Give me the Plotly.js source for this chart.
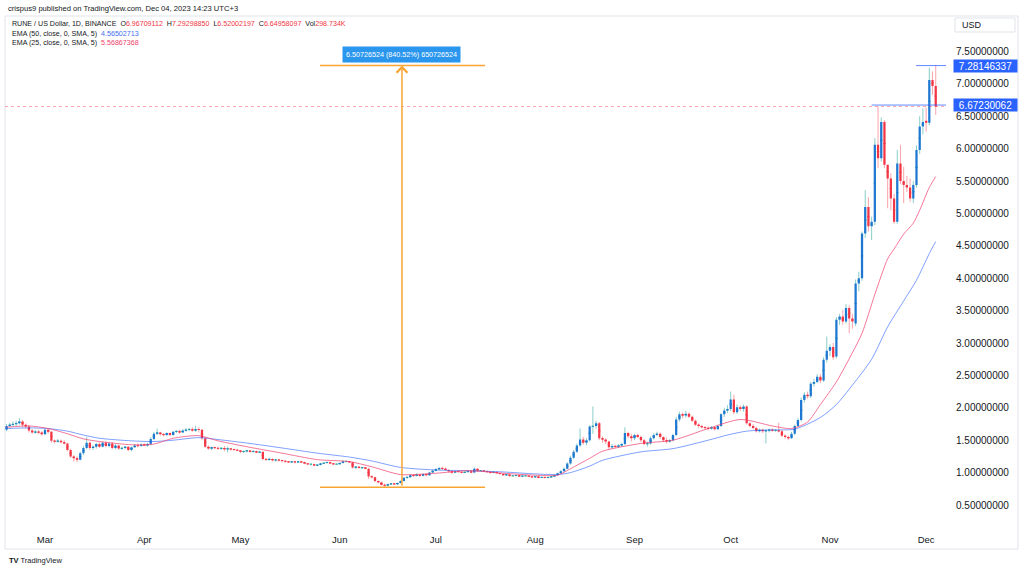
<!DOCTYPE html>
<html><head><meta charset="utf-8">
<script src="https://cdn.plot.ly/plotly-3.0.1.min.js"></script>
<style>html,body{margin:0;padding:0;background:#fff;}#chart{width:1024px;height:570px;}</style>
</head><body><div id="chart"></div>
<script>
// ---- data: RUNE / US Dollar, 1D, Binance, daily candles from 2023-02-17 ----
const firstDay = '2023-02-17';
const openFeb = [1.66,1.72,1.74,1.75,1.76,1.79,1.74,1.71,1.65,1.62,1.63,1.62];
const highFeb = [1.75,1.77,1.79,1.80,1.84,1.81,1.76,1.73,1.67,1.66,1.66,1.64];
const lowFeb  = [1.64,1.70,1.71,1.72,1.74,1.70,1.68,1.62,1.60,1.60,1.59,1.57];
const closeFeb= [1.72,1.74,1.75,1.76,1.79,1.74,1.71,1.65,1.62,1.63,1.62,1.59];

const openMar = [1.59,1.66,1.63,1.49,1.48,1.49,1.47,1.45,1.35,1.25,1.22,1.20,1.30,1.38,1.46,1.38,1.40,1.44,1.40,1.46,1.41,1.45,1.38,1.42,1.37,1.38,1.40,1.35,1.39,1.42,1.41];
const highMar = [1.68,1.68,1.64,1.51,1.52,1.51,1.50,1.46,1.37,1.27,1.25,1.32,1.41,1.55,1.48,1.42,1.46,1.47,1.48,1.48,1.47,1.47,1.44,1.43,1.40,1.41,1.41,1.40,1.44,1.45,1.45];
const lowMar  = [1.58,1.60,1.46,1.45,1.46,1.45,1.43,1.33,1.23,1.17,1.16,1.19,1.27,1.36,1.35,1.35,1.37,1.38,1.39,1.39,1.39,1.36,1.36,1.35,1.35,1.36,1.33,1.33,1.38,1.39,1.40];
const closeMar= [1.66,1.63,1.49,1.48,1.49,1.47,1.45,1.35,1.25,1.22,1.20,1.30,1.38,1.46,1.38,1.40,1.44,1.40,1.46,1.41,1.45,1.38,1.42,1.37,1.38,1.40,1.35,1.39,1.42,1.41,1.43];

const openApr = [1.43,1.42,1.44,1.52,1.60,1.62,1.59,1.58,1.61,1.58,1.63,1.64,1.62,1.65,1.66,1.67,1.65,1.67,1.66,1.53,1.40,1.37,1.39,1.38,1.37,1.38,1.36,1.37,1.36,1.35];
const highApr = [1.45,1.46,1.55,1.63,1.68,1.63,1.61,1.62,1.62,1.64,1.66,1.66,1.67,1.69,1.69,1.70,1.72,1.70,1.67,1.54,1.42,1.40,1.40,1.40,1.39,1.41,1.40,1.38,1.37,1.37];
const lowApr  = [1.41,1.40,1.42,1.50,1.58,1.57,1.56,1.56,1.56,1.57,1.61,1.60,1.61,1.63,1.64,1.63,1.63,1.62,1.50,1.38,1.35,1.35,1.36,1.35,1.35,1.33,1.31,1.34,1.34,1.33];
const closeApr= [1.42,1.44,1.52,1.60,1.62,1.59,1.58,1.61,1.58,1.63,1.64,1.62,1.65,1.66,1.67,1.65,1.67,1.66,1.53,1.40,1.37,1.39,1.38,1.37,1.38,1.36,1.37,1.36,1.35,1.34];

const openMay = [1.34,1.32,1.33,1.34,1.32,1.33,1.31,1.32,1.21,1.20,1.21,1.19,1.20,1.19,1.18,1.17,1.16,1.17,1.16,1.17,1.16,1.14,1.13,1.13,1.11,1.12,1.14,1.15,1.16,1.14,1.13];
const highMay = [1.35,1.34,1.35,1.35,1.35,1.34,1.33,1.32,1.22,1.23,1.22,1.21,1.21,1.20,1.19,1.18,1.18,1.18,1.18,1.18,1.17,1.15,1.14,1.14,1.13,1.15,1.16,1.17,1.17,1.15,1.14];
const lowMay  = [1.30,1.30,1.31,1.31,1.31,1.30,1.30,1.19,1.18,1.18,1.17,1.17,1.17,1.16,1.15,1.15,1.15,1.14,1.15,1.15,1.13,1.12,1.11,1.10,1.10,1.11,1.13,1.14,1.13,1.12,1.12];
const closeMay= [1.32,1.33,1.34,1.32,1.33,1.31,1.32,1.21,1.20,1.21,1.19,1.20,1.19,1.18,1.17,1.16,1.17,1.16,1.17,1.16,1.14,1.13,1.13,1.11,1.12,1.14,1.15,1.16,1.14,1.13,1.13];

const openJun = [1.13,1.15,1.17,1.17,1.16,1.08,1.09,1.07,1.08,1.06,0.94,0.93,0.87,0.85,0.81,0.80,0.82,0.83,0.82,0.84,0.87,0.92,0.93,0.96,0.95,0.97,0.95,0.98,0.96,1.00];
const highJun = [1.16,1.19,1.19,1.18,1.17,1.10,1.10,1.09,1.09,1.07,0.96,0.94,0.88,0.86,0.83,0.83,0.84,0.84,0.85,0.88,0.93,0.95,0.98,0.98,0.99,0.98,0.99,0.99,1.01,1.05];
const lowJun  = [1.12,1.14,1.16,1.15,1.06,1.05,1.06,1.06,1.05,0.90,0.91,0.85,0.83,0.80,0.77419813,0.79,0.81,0.81,0.81,0.83,0.86,0.90,0.92,0.93,0.94,0.93,0.94,0.94,0.95,0.99];
const closeJun= [1.15,1.17,1.17,1.16,1.08,1.09,1.07,1.08,1.06,0.94,0.93,0.87,0.85,0.81,0.80,0.82,0.83,0.82,0.84,0.87,0.92,0.93,0.96,0.95,0.97,0.95,0.98,0.96,1.00,1.03];

const openJul = [1.03,1.05,1.07,1.06,1.04,1.02,1.00,1.02,1.01,1.00,1.01,1.02,1.00,1.06,1.03,1.03,1.02,1.01,1.00,1.01,0.99,0.98,0.96,0.97,0.95,0.95,0.96,0.94,0.95,0.95,0.94];
const highJul = [1.07,1.09,1.09,1.08,1.05,1.04,1.03,1.03,1.02,1.02,1.03,1.03,1.08,1.07,1.04,1.04,1.03,1.02,1.02,1.02,1.00,0.99,0.98,0.97,0.96,0.97,0.97,0.96,0.96,0.96,0.95];
const lowJul  = [1.02,1.04,1.04,1.03,1.00,0.98,0.99,1.00,0.99,0.99,1.00,0.99,0.99,1.01,1.02,1.01,1.00,0.98,0.99,0.98,0.97,0.95,0.95,0.93,0.94,0.94,0.93,0.93,0.94,0.93,0.92];
const closeJul= [1.05,1.07,1.06,1.04,1.02,1.00,1.02,1.01,1.00,1.01,1.02,1.00,1.06,1.03,1.03,1.02,1.01,1.00,1.01,0.99,0.98,0.96,0.97,0.95,0.95,0.96,0.94,0.95,0.95,0.94,0.93];

const openAug = [0.93,0.94,0.92,0.93,0.92,0.93,0.94,0.96,0.99,1.02,1.06,1.14,1.23,1.32,1.42,1.51,1.46,1.50,1.71,1.72,1.76,1.53,1.51,1.48,1.39,1.41,1.40,1.42,1.44,1.61,1.56];
const highAug = [0.95,0.95,0.94,0.94,0.94,0.95,0.97,1.00,1.04,1.08,1.16,1.26,1.35,1.45,1.68,1.55,1.53,1.73,2.02,1.80,1.78,1.56,1.53,1.49,1.44,1.43,1.44,1.46,1.70,1.63,1.60];
const lowAug  = [0.92,0.91,0.92,0.91,0.91,0.92,0.93,0.95,0.98,1.01,1.05,1.12,1.21,1.30,1.40,1.43,1.42,1.48,1.60,1.68,1.50,1.46,1.44,1.36,1.37,1.38,1.38,1.40,1.42,1.53,1.48];
const closeAug= [0.94,0.92,0.93,0.92,0.93,0.94,0.96,0.99,1.02,1.06,1.14,1.23,1.32,1.42,1.51,1.46,1.50,1.71,1.72,1.76,1.53,1.51,1.48,1.39,1.41,1.40,1.42,1.44,1.61,1.56,1.53];

const openSep = [1.53,1.58,1.55,1.50,1.44,1.45,1.53,1.58,1.60,1.55,1.50,1.48,1.50,1.58,1.82,1.90,1.88,1.91,1.86,1.80,1.74,1.72,1.70,1.69,1.68,1.70,1.67,1.72,1.90,1.96];
const highSep = [1.60,1.60,1.57,1.52,1.48,1.56,1.61,1.63,1.62,1.56,1.54,1.52,1.60,1.86,1.94,1.93,1.95,1.93,1.88,1.82,1.76,1.74,1.72,1.71,1.72,1.71,1.74,1.92,2.00,2.04];
const lowSep  = [1.50,1.53,1.47,1.42,1.40,1.43,1.51,1.56,1.52,1.47,1.45,1.46,1.48,1.56,1.79,1.84,1.85,1.84,1.78,1.72,1.69,1.68,1.66,1.65,1.66,1.65,1.66,1.70,1.86,1.92];
const closeSep= [1.58,1.55,1.50,1.44,1.45,1.53,1.58,1.60,1.55,1.50,1.48,1.50,1.58,1.82,1.90,1.88,1.91,1.86,1.80,1.74,1.72,1.70,1.69,1.68,1.70,1.67,1.72,1.90,1.96,1.98];

const openOct = [1.98,2.13,1.93,2.01,1.98,2.02,1.76,1.72,1.69,1.64,1.66,1.64,1.65,1.66,1.65,1.65,1.64,1.57,1.55,1.53,1.60,1.72,1.81,2.12,2.20,2.18,2.37,2.40,2.48,2.42,2.74];
const highOct = [2.25,2.20,2.05,2.04,2.05,2.04,1.78,1.75,1.71,1.68,1.68,1.67,1.68,1.68,1.67,1.77,1.66,1.59,1.57,1.63,1.74,1.84,2.16,2.24,2.25,2.40,2.45,2.52,2.52,2.78,3.10];
const lowOct  = [1.95,1.90,1.91,1.95,1.94,1.74,1.70,1.67,1.62,1.62,1.61,1.45,1.62,1.63,1.63,1.62,1.55,1.52,1.50,1.52,1.58,1.70,1.79,2.08,2.14,2.15,2.33,2.38,2.38,2.40,2.70];
const closeOct= [2.13,1.93,2.01,1.98,2.02,1.76,1.72,1.69,1.64,1.66,1.64,1.65,1.66,1.65,1.65,1.64,1.57,1.55,1.53,1.60,1.72,1.81,2.12,2.20,2.18,2.37,2.40,2.48,2.42,2.74,2.88];

const openNov = [2.88,2.94,2.79,3.36,3.41,3.33,3.54,3.38,3.30,3.92,4.00,4.69,5.10,4.80,4.87,6.06,5.85,6.41,5.75,5.54,5.23,4.87,5.77,5.50,5.44,5.40,5.23,5.44,5.98,6.34];
const highNov = [2.98,3.00,3.40,3.45,3.51,3.60,3.58,3.45,3.98,4.10,4.72,5.36,5.25,4.95,6.16,6.65,6.48,6.44,5.75,5.62,5.30,5.98,6.06,5.72,5.58,5.54,5.50,6.05,6.50,6.62];
const lowNov  = [2.80,2.74,2.76,3.28,3.28,3.30,3.15,3.22,3.26,3.80,3.96,4.62,4.72,4.59,4.82,5.70,5.80,5.70,5.08,5.05,4.84,4.84,5.45,5.16,5.33,5.18,5.16,5.40,5.92,6.22];
const closeNov= [2.94,2.78,3.36,3.41,3.33,3.54,3.38,3.33,3.92,4.00,4.69,5.10,4.80,4.87,6.06,5.85,6.41,5.75,5.54,5.23,4.87,5.77,5.50,5.44,5.40,5.23,5.44,5.98,6.34,6.41];

const openDec = [6.43,6.40,7.06,6.96709112];
const highDec = [6.63,7.25,7.19,7.29298850];
const lowDec  = [6.26,6.36,6.83,6.52002197];
const closeDec= [6.40,7.06,6.96709112,6.64958097];

// EMA indicator readings (sampled dates)
const ema50Dates = ['2023-02-17','2023-02-24','2023-03-02','2023-03-08','2023-03-13','2023-03-18','2023-03-28','2023-04-04','2023-04-10','2023-04-18','2023-04-24','2023-05-04','2023-05-14','2023-05-25','2023-06-04','2023-06-11','2023-06-20','2023-07-01','2023-07-11','2023-07-22','2023-08-01','2023-08-08','2023-08-12','2023-08-18','2023-08-22','2023-09-03','2023-09-13','2023-09-24','2023-09-30','2023-10-06','2023-10-14','2023-10-21','2023-10-29','2023-11-03','2023-11-08','2023-11-14','2023-11-19','2023-11-24','2023-11-28','2023-12-02','2023-12-04'];
const ema50Vals  = [1.68,1.69,1.68,1.64,1.58,1.53,1.49,1.48,1.50,1.54,1.51,1.45,1.38,1.30,1.24,1.18,1.08,1.04,1.03,1.01,0.98,0.97,1.00,1.10,1.19,1.32,1.37,1.50,1.58,1.64,1.66,1.67,1.85,2.05,2.35,2.75,3.25,3.65,3.97,4.38,4.56502713];
const ema25Dates = ['2023-02-17','2023-02-24','2023-03-02','2023-03-08','2023-03-13','2023-03-18','2023-03-28','2023-04-04','2023-04-10','2023-04-18','2023-04-24','2023-05-04','2023-05-14','2023-05-25','2023-06-04','2023-06-11','2023-06-20','2023-07-01','2023-07-11','2023-07-22','2023-08-01','2023-08-08','2023-08-12','2023-08-18','2023-08-22','2023-09-03','2023-09-13','2023-09-24','2023-10-04','2023-10-14','2023-10-20','2023-10-25','2023-10-29','2023-11-03','2023-11-08','2023-11-11','2023-11-15','2023-11-19','2023-11-21','2023-11-24','2023-11-27','2023-11-29','2023-12-02','2023-12-04'];
const ema25Vals  = [1.70,1.72,1.68,1.60,1.52,1.48,1.43,1.44,1.53,1.57,1.49,1.39,1.30,1.20,1.17,1.09,0.97,0.99,1.03,0.99,0.96,0.96,1.06,1.22,1.33,1.45,1.50,1.68,1.82,1.72,1.68,1.78,2.05,2.40,2.85,3.15,3.75,4.30,4.45,4.68,4.85,5.05,5.40,5.56867368];

// drawings
const measureLow = 0.77419813, measureHigh = 7.28146337;
const measureStart = '2023-05-25T20:00', measureEnd = '2023-07-16T08:00', measureAt = '2023-06-20T10:00';
const rayLevel1 = 6.67230062, rayStart1 = '2023-11-14';
const rayLevel2 = 7.28146337, rayStart2 = '2023-11-27T21:00';
const xRange = ['2023-02-16T12:30', '2023-12-07T05:00'];
const yRange = [0.145, 7.985];

// ---- build ----
const O = [].concat(openFeb,openMar,openApr,openMay,openJun,openJul,openAug,openSep,openOct,openNov,openDec);
const H = [].concat(highFeb,highMar,highApr,highMay,highJun,highJul,highAug,highSep,highOct,highNov,highDec);
const L = [].concat(lowFeb,lowMar,lowApr,lowMay,lowJun,lowJul,lowAug,lowSep,lowOct,lowNov,lowDec);
const C = [].concat(closeFeb,closeMar,closeApr,closeMay,closeJun,closeJul,closeAug,closeSep,closeOct,closeNov,closeDec);
const t0 = Date.parse(firstDay + 'T00:00:00Z');
const D = O.map((_, i) => new Date(t0 + i * 86400000).toISOString().slice(0, 10));

const up = {x:[],o:[],h:[],l:[]}, dn = {x:[],o:[],h:[],l:[]};
O.forEach((o, i) => {
  const g = C[i] >= o ? up : dn;
  const mid = (o + C[i]) / 2;
  g.x.push(D[i]); g.o.push(mid); g.h.push(H[i]); g.l.push(L[i]);
});
const bodyHi = O.map((o, i) => Math.max(o, C[i]));
const bodyLo = O.map((o, i) => Math.min(o, C[i]));

const BLUE = '#1e78d2', RED = '#f23645';
const wickUp = 'rgba(38,166,154,0.55)', wickDn = 'rgba(242,54,69,0.45)';
function wickTrace(g, col) {
  return {type:'candlestick', x:g.x, open:g.o, close:g.o, high:g.h, low:g.l,
    increasing:{line:{color:col,width:1}, fillcolor:col},
    decreasing:{line:{color:col,width:1}, fillcolor:col},
    hoverinfo:'skip', showlegend:false};
}
const traces = [
  {type:'scatter', mode:'lines', x:ema50Dates, y:ema50Vals, line:{color:'rgba(41,98,255,0.6)', width:1, shape:'spline', smoothing:0.7}, hoverinfo:'skip', showlegend:false},
  {type:'scatter', mode:'lines', x:ema25Dates, y:ema25Vals, line:{color:'rgba(240,60,110,0.7)', width:1, shape:'spline', smoothing:0.7}, hoverinfo:'skip', showlegend:false},
  wickTrace(up, wickUp),
  wickTrace(dn, wickDn),
  {type:'candlestick', x:D, open:O, close:C, high:bodyHi, low:bodyLo,
    increasing:{line:{color:BLUE,width:0}, fillcolor:BLUE},
    decreasing:{line:{color:RED,width:0}, fillcolor:RED},
    hoverinfo:'skip', showlegend:false}
];

const last = O.length - 1;
const f8 = v => v.toFixed(8);
const red = s => '<span style="color:#f23645">' + s + '</span>';
const SP = '\u00a0\u00a0';
const line1 = 'RUNE / US Dollar, 1D, BINANCE' + SP + 'O' + red(f8(O[last])) + SP + 'H' + red(f8(H[last])) + SP + 'L' + red(f8(L[last])) + SP + 'C' + red(f8(C[last])) + SP + 'Vol' + red('298.734K');
const line2 = 'EMA (50, close, 0, SMA, 5)' + SP + '<span style="color:#3f6ef0">' + f8(ema50Vals[ema50Vals.length-1]) + '</span>';
const line3 = 'EMA (25, close, 0, SMA, 5)' + SP + '<span style="color:#ee3f6c">' + f8(ema25Vals[ema25Vals.length-1]) + '</span>';
const diff = measureHigh - measureLow;
const measureText = diff.toFixed(8) + ' (' + (diff / measureLow * 100).toFixed(2) + '%) ' + Math.round(diff * 1e8);

// pixel helpers for paper coordinates (plot area x 5..946, y 20..528)
const px = x => (x - 5) / 941, py = y => (528 - y) / 508;
const FONT = 'Liberation Sans, Arial, sans-serif';
const TXT = '#131722';
const ORANGE = '#f9a533';

const annotations = [
  {xref:'paper', yref:'paper', x:px(6), y:py(8.5), xanchor:'left', yanchor:'middle', showarrow:false, text:'crispus9 published on TradingView.com, Dec 04, 2023 14:23 UTC+3', font:{size:7.6, color:TXT, family:FONT}},
  {xref:'paper', yref:'paper', x:px(10), y:py(24.5), xanchor:'left', yanchor:'middle', showarrow:false, text:line1, font:{size:7.1, color:TXT, family:FONT}},
  {xref:'paper', yref:'paper', x:px(10), y:py(34), xanchor:'left', yanchor:'middle', showarrow:false, text:line2, font:{size:7.1, color:TXT, family:FONT}},
  {xref:'paper', yref:'paper', x:px(10), y:py(43.3), xanchor:'left', yanchor:'middle', showarrow:false, text:line3, font:{size:7.1, color:TXT, family:FONT}},
  {xref:'paper', yref:'paper', x:px(960), y:py(25), xanchor:'left', yanchor:'middle', showarrow:false, text:'USD', font:{size:9, color:TXT, family:FONT}},
  {xref:'paper', yref:'y', x:px(953), y:rayLevel2, xanchor:'left', yanchor:'middle', showarrow:false, text:f8(rayLevel2), width:63, height:12, bgcolor:'#2962ff', borderpad:0, font:{size:10, color:'#ffffff', family:FONT}},
  {xref:'paper', yref:'y', x:px(953), y:rayLevel1, xanchor:'left', yanchor:'middle', showarrow:false, text:f8(rayLevel1), width:63, height:12, bgcolor:'#2962ff', borderpad:0, font:{size:10, color:'#ffffff', family:FONT}},
  {xref:'x', yref:'y', x:measureAt, y:measureHigh, axref:'x', ayref:'y', ax:measureAt, ay:measureLow, text:'', showarrow:true, arrowhead:4, arrowsize:1.4, arrowwidth:1.5, arrowcolor:ORANGE, standoff:0, startstandoff:0},
  {xref:'x', yref:'paper', x:measureAt, y:py(54.5), xanchor:'center', yanchor:'middle', showarrow:false, text:measureText, bgcolor:'#2a96ee', borderpad:3, font:{size:7.2, color:'#ffffff', family:FONT}},
  {xref:'paper', yref:'paper', x:px(7), y:py(560), xanchor:'left', yanchor:'middle', showarrow:false, text:'<b>TV</b> TradingView', font:{size:7.5, color:TXT, family:FONT}}
];

const shapes = [
  {type:'rect', xref:'paper', yref:'paper', x0:px(5), x1:px(1018), y0:py(549), y1:py(16), line:{color:'#e0e3eb', width:1}, layer:'below'},
  {type:'rect', xref:'paper', yref:'paper', x0:px(955), x1:px(1015), y0:py(32), y1:py(18), line:{color:'#e0e3eb', width:1}},
  {type:'line', xref:'paper', yref:'y', x0:0, x1:1, y0:C[last], y1:C[last], line:{color:'rgba(242,54,69,0.55)', width:0.8, dash:'dot'}},
  {type:'line', xref:'x', yref:'y', x0:rayStart1, x1:xRange[1], y0:rayLevel1, y1:rayLevel1, line:{color:'rgba(41,98,255,0.75)', width:1}},
  {type:'line', xref:'x', yref:'y', x0:rayStart2, x1:xRange[1], y0:rayLevel2, y1:rayLevel2, line:{color:'rgba(41,98,255,0.75)', width:1}},
  {type:'line', xref:'x', yref:'y', x0:measureStart, x1:measureEnd, y0:measureHigh, y1:measureHigh, line:{color:ORANGE, width:1.5}},
  {type:'line', xref:'x', yref:'y', x0:measureStart, x1:measureEnd, y0:measureLow, y1:measureLow, line:{color:ORANGE, width:1.5}}
];

const layout = {
  width:1024, height:570,
  margin:{l:5, r:78, t:20, b:42},
  paper_bgcolor:'#ffffff', plot_bgcolor:'#ffffff',
  showlegend:false, boxgap:0.3, boxgroupgap:0,
  font:{family:FONT, color:TXT},
  xaxis:{type:'date', range:xRange, rangeslider:{visible:false}, tickformat:'%b', dtick:'M1', tick0:'2023-03-01',
    showgrid:false, zeroline:false, showline:false, ticks:'', ticklabelstandoff:4, tickfont:{size:9.5, color:TXT, family:FONT}, fixedrange:true},
  yaxis:{side:'right', range:yRange, dtick:0.5, tick0:0, tickformat:'.8f', showgrid:false, zeroline:false, showline:false,
    ticks:'', ticklabelstandoff:9, tickfont:{size:10, color:TXT, family:FONT}, fixedrange:true},
  annotations:annotations, shapes:shapes
};

Plotly.newPlot('chart', traces, layout, {staticPlot:true, displayModeBar:false});
</script>
</body></html>
